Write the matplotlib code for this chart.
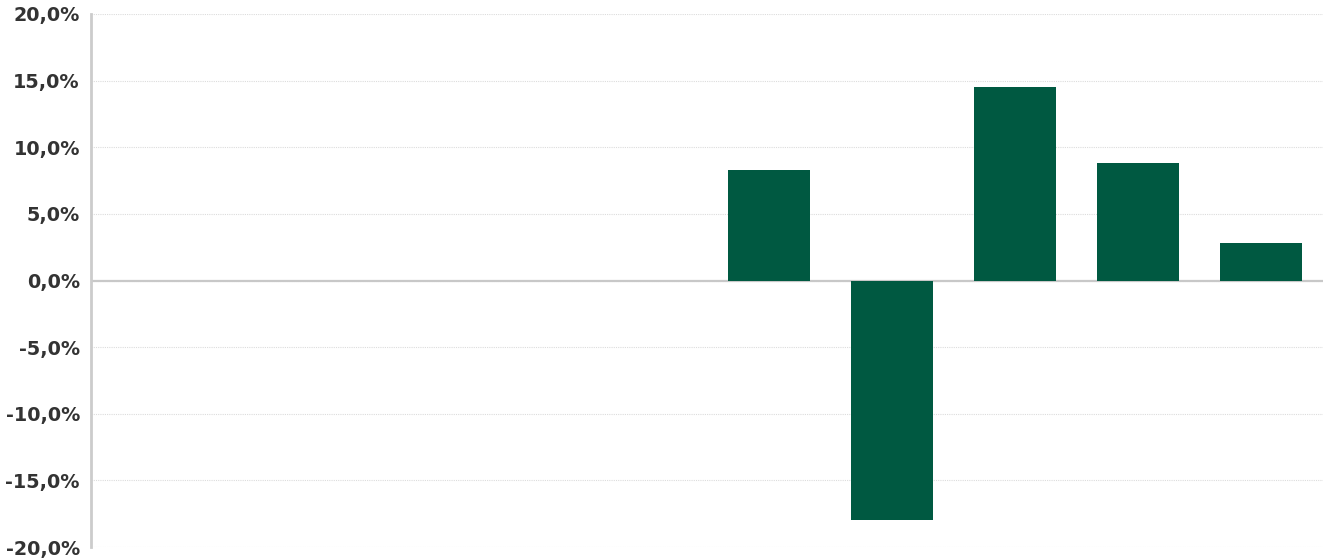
import matplotlib
matplotlib.use("Agg")
from matplotlib import pyplot as plt
from matplotlib.ticker import FuncFormatter
import numpy as np

# 10 slots, only the last five carry values
slots = list(range(10))
values = [None, None, None, None, None, 8.3, -18.0, 14.5, 8.8, 2.8]
yticks = [-20, -15, -10, -5, 0, 5, 10, 15, 20]

fig = plt.figure(figsize=(13.28, 5.6), dpi=100)
ax = fig.add_axes([91 / 1328, 13 / 560, 1232 / 1328, 533 / 560])

xs = [i for i, v in zip(slots, values) if v is not None]
hs = [v for v in values if v is not None]
ax.bar(xs, hs, width=0.665, color="#005941", zorder=3)

ax.set_xlim(-0.5, 9.5)
ax.set_ylim(-20, 20)
ax.set_yticks(yticks)
ax.yaxis.set_major_formatter(FuncFormatter(lambda v, p: ("%.1f%%" % v).replace(".", ",")))
ax.set_xticks([])

ax.grid(axis="y", color="#dcdcdc", linestyle=(0, (1, 1)), linewidth=0.8, zorder=0)
ax.axhline(0, color="#c8c8c8", linewidth=1.6, zorder=2)

for s in ["top", "right", "bottom"]:
    ax.spines[s].set_visible(False)
ax.spines["left"].set_color("#cccccc")
ax.spines["left"].set_linewidth(2)

ax.tick_params(axis="y", length=0, pad=8, labelsize=13.8, labelcolor="#333333")
for lbl in ax.get_yticklabels():
    lbl.set_fontweight("bold")

fig.savefig("out.png", dpi=100)
